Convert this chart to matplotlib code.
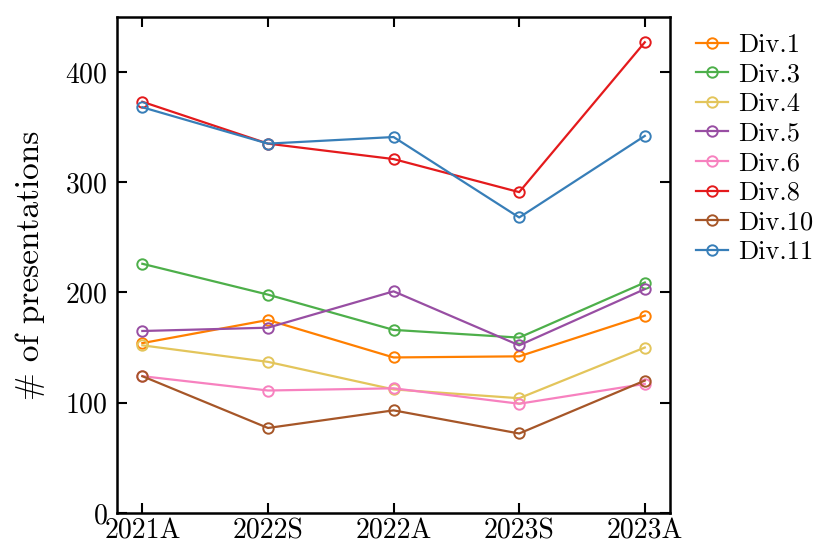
import matplotlib.pyplot as plt

plt.rcParams['font.family'] = ['cmr10', 'DejaVu Serif']
plt.rcParams['mathtext.fontset'] = 'cm'
plt.rcParams['axes.formatter.use_mathtext'] = True

terms = ['2021A', '2022S', '2022A', '2023S', '2023A']

div1 = [154, 175, 141, 142, 179]
div3 = [226, 198, 166, 159, 209]
div4 = [152, 137, 112, 104, 150]
div5 = [165, 168, 201, 152, 203]
div6 = [124, 111, 113, 99, 117]
div8 = [373, 335, 321, 291, 427]
div10 = [124, 77, 93, 72, 120]
div11 = [368, 335, 341, 268, 342]

series = [('Div.1', div1, '#ff7f00'),
          ('Div.3', div3, '#4daf4a'),
          ('Div.4', div4, '#e3c55b'),
          ('Div.5', div5, '#984ea3'),
          ('Div.6', div6, '#f781bf'),
          ('Div.8', div8, '#e41a1c'),
          ('Div.10', div10, '#a65628'),
          ('Div.11', div11, '#377eb8')]

fig = plt.figure(figsize=(8.14, 5.45), dpi=100)
ax = fig.add_axes([0.144, 0.059, 0.679, 0.910])

x = range(len(terms))
for name, vals, color in series:
    ax.plot(x, vals, marker='o', markersize=7.5, markerfacecolor='none',
            color=color, linewidth=1.6, markeredgewidth=1.4, label=name)

ax.set_xticks(list(x))
ax.set_xticklabels(terms)
ax.set_xlim(-0.2, 4.2)
ax.set_ylim(0, 450)
ax.set_yticks([0, 100, 200, 300, 400])
ax.set_ylabel('# of presentations', fontsize=24, labelpad=14)
ax.tick_params(direction='in', top=True, right=True, labelsize=20,
               length=7, width=1.5)
ax.tick_params(axis='x', pad=3.5)
ax.tick_params(axis='y', pad=7)
for s in ax.spines.values():
    s.set_linewidth(1.8)

ax.legend(loc='upper left', bbox_to_anchor=(1.0, 1.02), frameon=False,
          fontsize=19, handlelength=1.2, handletextpad=0.4,
          labelspacing=0.22, borderaxespad=0.6)

fig.savefig('out.png', dpi=100)
